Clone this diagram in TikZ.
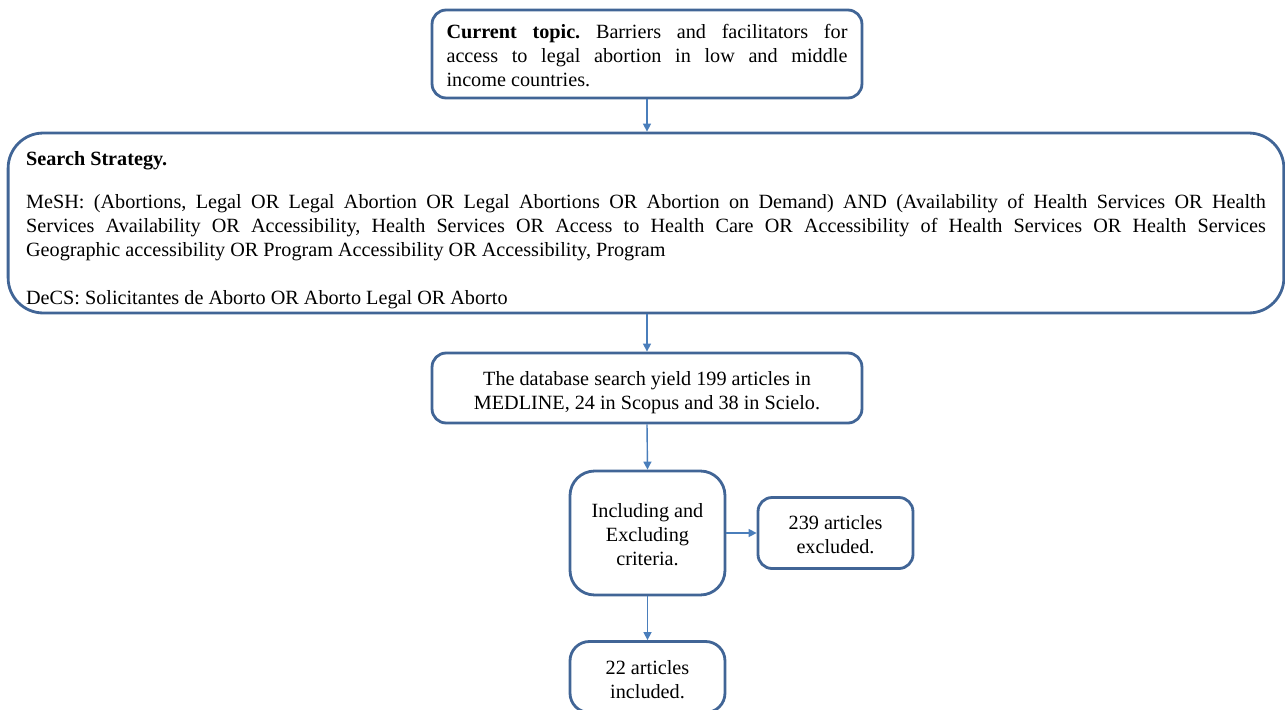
\documentclass[tikz,border=0pt]{standalone}
\usepackage{fontspec}
\setmainfont{Liberation Serif}
\usetikzlibrary{arrows.meta}
\definecolor{boxblue}{RGB}{65,101,150}
\definecolor{arrowblue}{RGB}{74,126,187}

\begin{document}
\begin{tikzpicture}[x=0.02cm, y=-0.02cm,
  flowbox/.style={draw=boxblue, line width=1.6pt, inner sep=0pt,
    font=\fontsize{11.5}{13.6}\selectfont\frenchspacing},
  flowarrow/.style={draw=arrowblue, line width=0.8pt, -{Triangle[length=4.5pt, width=4.5pt]}}]
  \useasboundingbox (0,0) rectangle (1285,710);
  % boxes placed at pixel positions of the layout
  \node[flowbox, rounded corners=8pt, minimum width=8.6cm, minimum height=1.76cm,
    text width=8.02cm, align=justify] (topic) at (647,54)
    {\rule{0pt}{9.8pt}\textbf{Current topic.} Barriers and facilitators for\linebreak
     access to legal abortion in low and middle\linebreak
     income countries.};
  \node[flowbox, rounded corners=20pt, minimum width=25.52cm, minimum height=3.6cm,
    text width=24.8cm, align=justify] (search) at (646,223)
    {\rule{0pt}{16pt}\textbf{Search Strategy.}\par\vspace{0.4cm}
     MeSH: (Abortions, Legal OR Legal Abortion OR Legal Abortions OR Abortion on Demand) AND (Availability of Health Services OR Health\linebreak
     Services Availability OR Accessibility, Health Services OR Access to Health Care OR Accessibility of Health Services OR Health Services\linebreak
     Geographic accessibility OR Program Accessibility OR Accessibility, Program\par\vspace{0.48cm}
     DeCS: Solicitantes de Aborto OR Aborto Legal OR Aborto};
  \node[flowbox, rounded corners=8pt, minimum width=8.6cm, minimum height=1.4cm,
    align=center] (yield) at (647,388)
    {\rule{0pt}{13.5pt}The database search yield 199 articles in\\ MEDLINE, 24 in Scopus and 38 in Scielo.};
  \node[flowbox, rounded corners=14pt, minimum width=3.1cm, minimum height=2.48cm,
    align=center] (criteria) at (647.5,533)
    {\rule{0pt}{10pt}Including and\\ Excluding\\ criteria.};
  \node[flowbox, rounded corners=8pt, minimum width=3.1cm, minimum height=1.42cm,
    align=center] (excluded) at (835.5,533)
    {\rule{0pt}{9.5pt}239 articles\\ excluded.};
  \node[flowbox, rounded corners=11pt, minimum width=3.1cm, minimum height=1.42cm,
    align=center] (included) at (647.5,677)
    {\rule{0pt}{11pt}22 articles\\ included.};
  % connectors
  \draw[flowarrow] (topic.south) -- (topic.south |- search.north);
  \draw[flowarrow] (search.south -| yield.north) -- (yield.north);
  \draw[flowarrow] (yield.south) -- (criteria.north);
  \draw[flowarrow] (criteria.east) -- (excluded.west);
  \draw[flowarrow] (criteria.south) -- (included.north);
\end{tikzpicture}
\end{document}
